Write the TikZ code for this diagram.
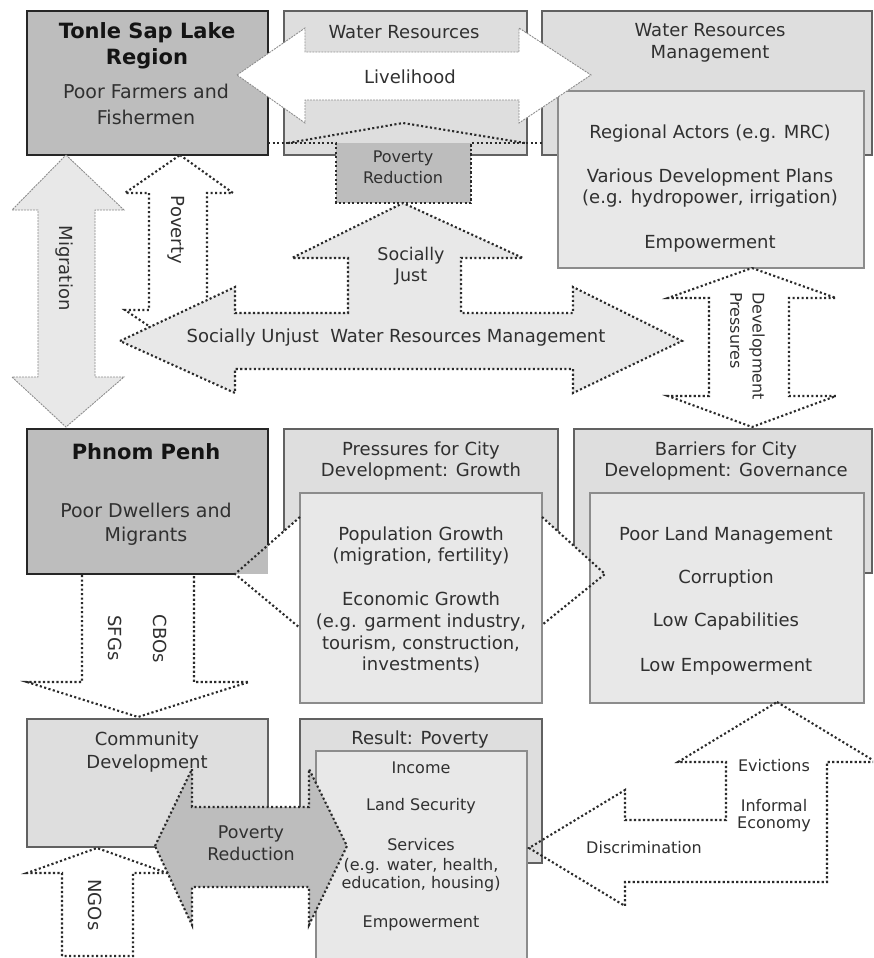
\documentclass[tikz,border=0pt]{standalone}
\usepackage{fontspec}
\setmainfont{DejaVu Sans}
\definecolor{darkfill}{HTML}{BDBDBD}
\definecolor{lightfill}{HTML}{DEDEDE}
\definecolor{innerfill}{HTML}{E8E8E8}
\definecolor{txtc}{HTML}{303030}
\definecolor{dotc}{HTML}{2A2A2A}
\definecolor{dashc}{HTML}{8C8C8C}
\tikzset{
  darkbox/.style={fill=darkfill, draw=black!85, line width=1.4pt},
  outerbox/.style={fill=lightfill, draw=black!62, line width=1.2pt},
  innerbox/.style={fill=innerfill, draw=black!45, line width=1.2pt},
  dotarrow/.style={draw=dotc, line width=2.1pt, dash pattern=on 2.1pt off 2.4pt},
  grayarrow/.style={draw=dashc, line width=0.9pt, dash pattern=on 2pt off 1pt},
  lab/.style={text=txtc, inner sep=0pt, anchor=base, font=\fontsize{18}{22}\selectfont},
  labl/.style={text=txtc, inner sep=0pt, anchor=base, font=\fontsize{19}{23}\selectfont},
  labs/.style={text=txtc, inner sep=0pt, anchor=base, font=\fontsize{16}{19}\selectfont},
  labm/.style={text=txtc, inner sep=0pt, anchor=base, font=\fontsize{17.5}{21}\selectfont},
  headlab/.style={text=black!92, inner sep=0pt, anchor=base, font=\fontsize{21}{25}\selectfont\bfseries},
  vlab/.style={text=txtc, inner sep=0pt, rotate=-90, font=\fontsize{18}{22}\selectfont},
  vlabs/.style={text=txtc, inner sep=0pt, rotate=-90, anchor=west, font=\fontsize{16}{19}\selectfont},
}
\begin{document}
\begin{tikzpicture}[x=1pt,y=-1pt]
\useasboundingbox (0,0) rectangle (873,958);
\clip (0,0) rectangle (873,958);
\fill[white] (0,0) rectangle (873,958);

% ---------------- top row ----------------
\draw[darkbox] (27,11) rectangle (268,155);
\node[headlab] (tonle1) at (147,39) {Tonle Sap Lake};
\node[headlab] (tonle2) at (147,65) {Region};
\node[labl] (tonle3) at (146,99) {Poor Farmers and};
\node[labl] (tonle4) at (146,124) {Fishermen};

\draw[outerbox] (284,11) rectangle (527,155);
\node[lab] (wr) at (404,39) {Water Resources};

\draw[outerbox] (542,11) rectangle (872,155);
\node[lab] (wrm1) at (710,37) {Water Resources};
\node[lab] (wrm2) at (710,59) {Management};
\draw[innerbox] (558,91) rectangle (864,268);
\node[lab] (ra) at (710,138) {Regional Actors (e.g. MRC)};
\node[lab] (vd1) at (710,182) {Various Development Plans};
\node[lab] (vd2) at (710,203) {(e.g. hydropower, irrigation)};
\node[lab] (emp1) at (710,248) {Empowerment};

% Livelihood double arrow
\draw[grayarrow, fill=white] (237,75) -- (305,28) -- (305,52) -- (519,52) -- (519,28) -- (591,75)
  -- (519,123) -- (519,100) -- (305,100) -- (305,123) -- cycle;
\node[lab] (liv) at (410,83) {Livelihood};

% Poverty reduction (top)
\fill[darkfill] (336,143) rectangle (471,203);
\draw[dotarrow] (268,143) -- (336,143) -- (336,203) -- (471,203) -- (471,143) -- (542,143);
\draw[dotarrow] (288,143) -- (403,123) -- (525,143);
\node[labs] (pr1) at (403,162) {Poverty};
\node[labs] (pr2) at (403,183) {Reduction};

% Poverty double arrow
\draw[dotarrow, fill=white] (180,155) -- (233,193) -- (207,193) -- (207,310) -- (233,310) -- (180,347)
  -- (125,310) -- (149,310) -- (149,193) -- (125,193) -- cycle;
\node[vlab] (pov) at (176,230) {Poverty};

% Migration double arrow
\draw[grayarrow, fill=innerfill] (66,155) -- (124,210) -- (95,210) -- (95,377) -- (124,377) -- (66,427)
  -- (12,377) -- (38,377) -- (38,210) -- (12,210) -- cycle;
\node[vlab] (mig) at (64,268) {Migration};

% Socially just / unjust arrows
\draw[dotarrow, fill=innerfill] (120,341) -- (235,287) -- (235,313) -- (348,313) -- (348,258) -- (292,258)
  -- (403,203) -- (523,258) -- (461,258) -- (461,313) -- (573,313) -- (573,287) -- (682,341)
  -- (573,393) -- (573,369) -- (235,369) -- (235,393) -- cycle;
\node[labm] (sj1) at (411,260) {Socially};
\node[labm] (sj2) at (411,281) {Just};
\node[lab] (swrm) at (396,342) {Socially Unjust~~Water Resources Management};

% Development pressures
\draw[dotarrow, fill=white] (752,268) -- (836,298) -- (789,298) -- (789,396) -- (836,396) -- (752,427)
  -- (668,396) -- (709,396) -- (709,298) -- (668,298) -- cycle;
\node[vlabs] (dev) at (757,292) {Development};
\node[vlabs] (pres) at (736,292) {Pressures};

% ---------------- middle row ----------------
\draw[outerbox] (284,429) rectangle (558,574);
\node[lab] (pc1) at (421,455) {Pressures for City};
\node[lab] (pc2) at (421,476) {Development: Growth};
\draw[outerbox] (574,429) rectangle (872,573);
\node[lab] (bc1) at (726,455) {Barriers for City};
\node[lab] (bc2) at (726,476) {Development: Governance};

\fill[white] (235,574) -- (300,517) -- (542,517) -- (605,574) -- (542,625) -- (300,628) -- cycle;

\fill[darkfill] (27,429) rectangle (268,574);
\draw[black!85, line width=1.4pt] (235,574) -- (27,574) -- (27,429) -- (268,429) -- (268,545);
\node[headlab] (pp1) at (146,459) {Phnom Penh};
\node[labl] (pp2) at (146,517) {Poor Dwellers and};
\node[labl] (pp3) at (146,541) {Migrants};

\draw[innerbox] (300,493) rectangle (542,703);
\node[lab] (pg1) at (421,540) {Population Growth};
\node[lab] (pg2) at (421,561) {(migration, fertility)};
\node[lab] (eg1) at (421,605) {Economic Growth};
\node[lab] (eg2) at (421,627) {(e.g. garment industry,};
\node[lab] (eg3) at (421,649) {tourism, construction,};
\node[lab] (eg4) at (421,670) {investments)};

\draw[innerbox] (590,493) rectangle (864,703);
\node[lab] (bl1) at (726,540) {Poor Land Management};
\node[lab] (bl2) at (726,583) {Corruption};
\node[lab] (bl3) at (726,626) {Low Capabilities};
\node[lab] (bl4) at (726,671) {Low Empowerment};

\draw[dotarrow] (300,517) -- (235,574) -- (300,628);
\draw[dotarrow] (542,517) -- (605,574) -- (542,625);

% SFGs / CBOs arrow
\draw[dotarrow, fill=white] (82,575) -- (82,682) -- (27,682) -- (138,717) -- (249,682) -- (194,682) -- (194,575);
\node[vlab] (sfg) at (115,638) {SFGs};
\node[vlab] (cbo) at (160,639) {CBOs};

% ---------------- bottom row ----------------
\draw[outerbox] (27,719) rectangle (268,847);
\node[lab] (cd1) at (147,745) {Community};
\node[lab] (cd2) at (147,768) {Development};

\draw[outerbox] (300,719) rectangle (542,863);
\node[lab] (res) at (420,744) {Result: Poverty};
\draw[innerbox] (316,751) rectangle (527,975);
\node[labs] (r1) at (421,773) {Income};
\node[labs] (r2) at (421,810) {Land Security};
\node[labs] (r3) at (421,850) {Services};
\node[labs] (r4) at (421,870) {(e.g. water, health,};
\node[labs] (r5) at (421,888) {education, housing)};
\node[labs] (r6) at (421,927) {Empowerment};

% NGOs arrow
\draw[dotarrow, fill=white] (62,956) -- (62,873) -- (27,873) -- (97,848) -- (167,873) -- (133,873) -- (133,956) -- cycle;
\node[vlab] (ngo) at (95,905) {NGOs};

% Poverty reduction (bottom)
\draw[dotarrow, fill=darkfill] (155,846) -- (192,769) -- (192,807) -- (309,807) -- (309,769) -- (347,846)
  -- (309,925) -- (309,887) -- (192,887) -- (192,925) -- cycle;
\node[labm] (pr3) at (251,838) {Poverty};
\node[labm] (pr4) at (251,860) {Reduction};

% Evictions / discrimination arrows
\draw[dotarrow] (777,702) -- (876,762) -- (827,762) -- (827,882) -- (625,882) -- (625,906) -- (529,848)
  -- (625,790) -- (625,820) -- (726,820) -- (726,762) -- (678,762) -- cycle;
\node[labs] (ev1) at (774,771) {Evictions};
\node[labs] (ev2) at (774,811) {Informal};
\node[labs] (ev3) at (774,828) {Economy};
\node[labs] (dis) at (644,853) {Discrimination};
\end{tikzpicture}
\end{document}
